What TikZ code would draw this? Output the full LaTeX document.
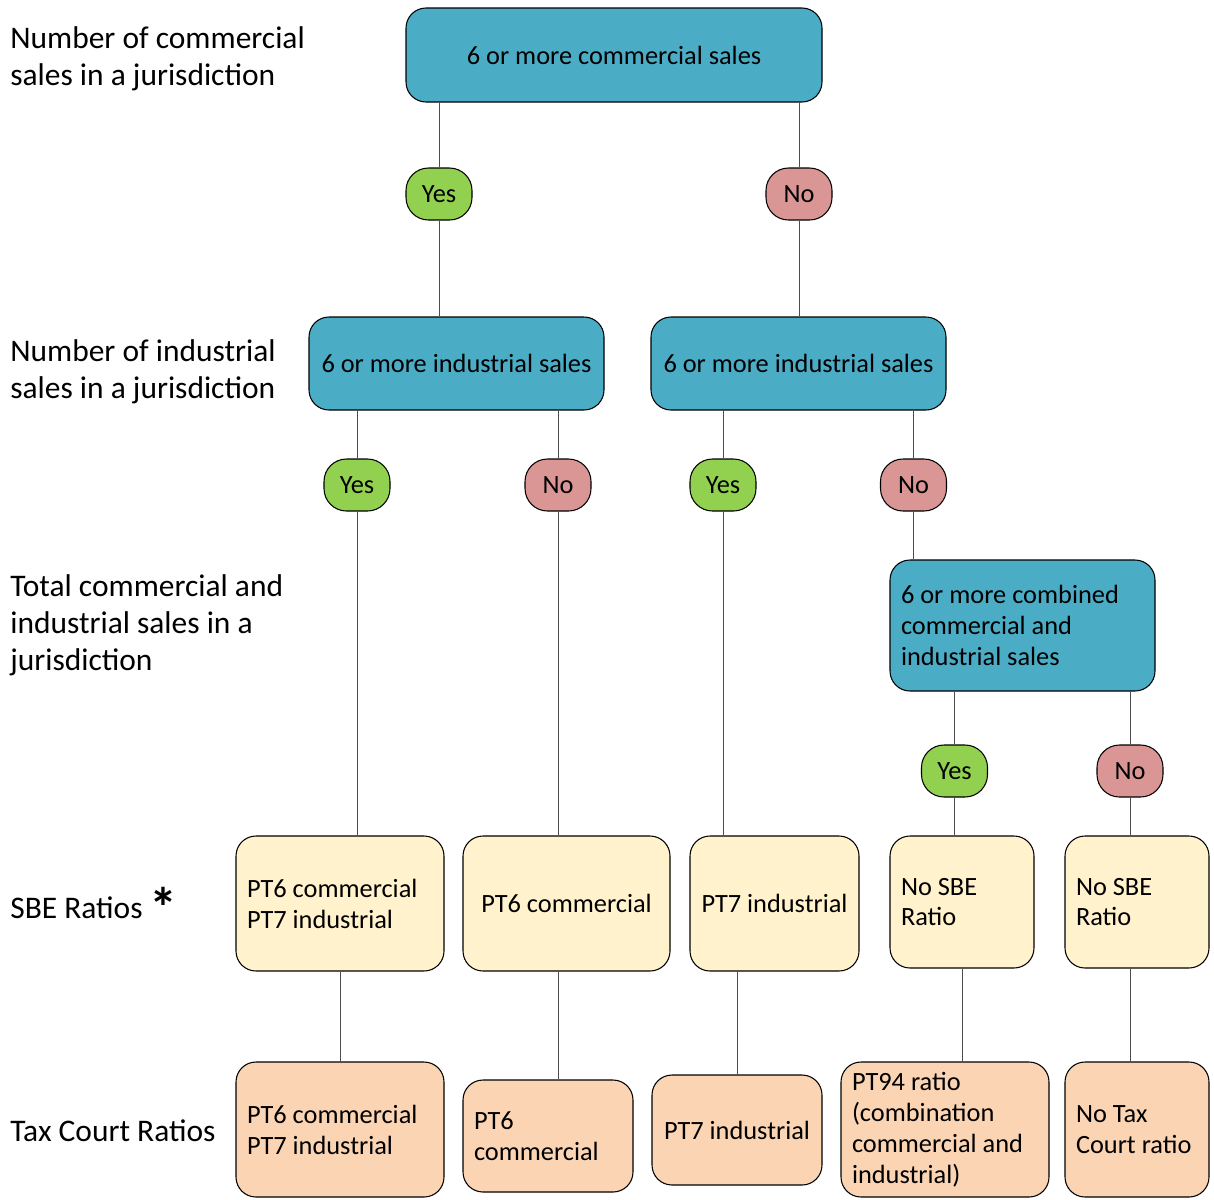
\documentclass[tikz,border=0pt]{standalone}
\usepackage{fontspec}
\setmainfont{Carlito}
\usepackage{tikz}
\definecolor{boxblue}{HTML}{4BACC6}
\definecolor{yesgreen}{HTML}{92D050}
\definecolor{nored}{HTML}{D99694}
\definecolor{sbeyellow}{HTML}{FFF2CC}
\definecolor{tcpeach}{HTML}{FBD4B4}

\begin{document}
\begin{tikzpicture}[
        box/.style={draw,line width=0.6pt,rounded corners=0.4cm,inner xsep=0.22cm,
          font=\fontsize{15}{17.6}\selectfont},
        test/.style={box,fill=boxblue,align=center},
        yes/.style={box,fill=yesgreen,rounded corners=0.45cm,minimum width=1.32cm,minimum height=1.04cm,inner sep=0pt},
        no/.style={yes,fill=nored},
        sbe/.style={box,fill=sbeyellow},
        tc/.style={box,fill=tcpeach},
        lab/.style={anchor=west,align=flush left,inner sep=0pt,font=\fontsize{17.9}{21}\selectfont},
        link/.style={draw=black!70,line width=0.5pt}
      ]
      \useasboundingbox (0,0) rectangle (24.28,-23.98);
      % row labels
      \node[lab] (l1) at (0.2,-1.17) {Number of commercial\\sales in a jurisdiction};
      \node[lab] (l2) at (0.2,-7.43) {Number of industrial\\sales in a jurisdiction};
      \node[lab] (l3) at (0.2,-12.51) {Total commercial and\\industrial sales in a\\jurisdiction};
      \node[lab] (l4) at (0.2,-18.16) {SBE Ratios \smash{\raisebox{-0.18cm}{\fontsize{32}{32}\selectfont\bfseries *}}};
      \node[lab] (l5) at (0.2,-22.62) {Tax Court Ratios};
      % tests
      \node[test,minimum width=8.32cm,minimum height=1.88cm] (com) at (12.28,-1.10) {6 or more commercial sales};
      \node[test,minimum width=5.90cm,minimum height=1.86cm] (indL) at (9.13,-7.27) {6 or more industrial sales};
      \node[test,minimum width=5.90cm,minimum height=1.86cm] (indR) at (15.97,-7.27) {6 or more industrial sales};
      \node[box,fill=boxblue,align=flush left,text width=4.86cm,minimum height=2.62cm] (comb) at (20.45,-12.51)
        {6 or more combined\\commercial and\\industrial sales};
      % answers
      \node[yes] (y1) at (8.78,-3.88) {Yes};
      \node[no]  (n1) at (15.98,-3.88) {No};
      \node[yes] (y2) at (7.14,-9.70) {Yes};
      \node[no]  (n2) at (11.16,-9.70) {No};
      \node[yes] (y3) at (14.46,-9.70) {Yes};
      \node[no]  (n3) at (18.27,-9.70) {No};
      \node[yes] (y4) at (19.09,-15.42) {Yes};
      \node[no]  (n4) at (22.60,-15.42) {No};
      % SBE ratios
      \node[sbe,align=flush left,text width=3.72cm,minimum height=2.70cm] (sbe1) at (6.80,-18.07) {PT6 commercial\\PT7 industrial};
      \node[sbe,align=center,minimum width=4.14cm,minimum height=2.70cm] (sbe2) at (11.33,-18.07) {PT6 commercial};
      \node[sbe,align=center,minimum width=3.38cm,minimum height=2.70cm] (sbe3) at (15.49,-18.07) {PT7 industrial};
      \node[sbe,align=flush left,text width=2.44cm,minimum height=2.64cm] (sbe4) at (19.24,-18.04) {No SBE\\Ratio};
      \node[sbe,align=flush left,text width=2.44cm,minimum height=2.64cm] (sbe5) at (22.74,-18.04) {No SBE\\Ratio};
      % tax court ratios
      \node[tc,align=flush left,text width=3.72cm,minimum height=2.70cm] (tc1) at (6.80,-22.59) {PT6 commercial\\PT7 industrial};
      \node[tc,align=flush left,text width=2.96cm,minimum height=2.24cm] (tc2) at (10.96,-22.72) {PT6\\commercial};
      \node[tc,align=center,minimum width=3.40cm,minimum height=2.20cm] (tc3) at (14.74,-22.60) {PT7 industrial};
      \node[tc,align=flush left,text width=3.72cm,minimum height=2.70cm] (tc4) at (18.90,-22.59)
        {PT94 ratio\\(combination\\commercial and\\industrial)};
      \node[tc,align=flush left,text width=2.44cm,minimum height=2.70cm] (tc5) at (22.74,-22.59) {No Tax\\Court ratio};
      % connectors
      \foreach\a/\b in {com/y1,com/n1,indL/y2,indL/n2,indR/y3,indR/n3,comb/y4,comb/n4}{\draw[link] (\a.south -| \b) -- (\b);}
      \foreach\a/\b in {y1/indL,n1/indR,y2/sbe1,n2/sbe2,y3/sbe3,n3/comb,y4/sbe4,n4/sbe5}{\draw[link] (\a) -- (\a |- \b.north);}
      \foreach\a/\b/\c in {sbe1/tc1/sbe1,sbe2/tc2/n2,sbe3/tc3/tc3,sbe4/tc4/sbe4,sbe5/tc5/n4}{\draw[link] (\a.south -| \c) -- (\b.north -| \c);}
    \end{tikzpicture}
\end{document}
